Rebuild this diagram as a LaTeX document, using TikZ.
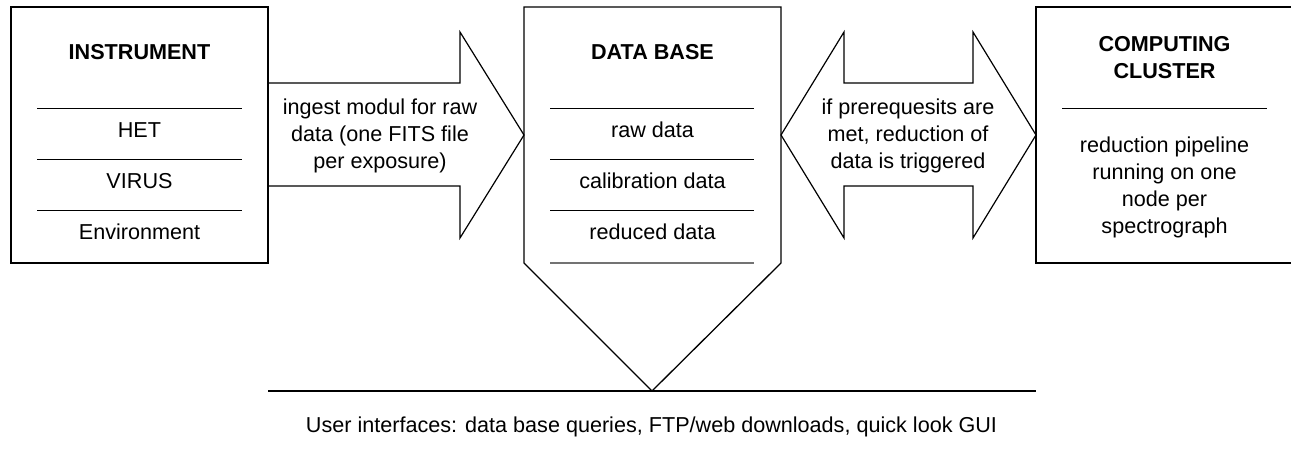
\documentclass[tikz,border=0pt]{standalone}
\usepackage{fontspec}
\setmainfont{Liberation Sans}
\begin{document}
\begin{tikzpicture}[x=1pt,y=-1pt,
  txt/.style={anchor=base, inner sep=0pt, font=\fontsize{21.6}{27}\selectfont},
  ttl/.style={anchor=base, inner sep=0pt, font=\fontsize{21.6}{27}\selectfont\bfseries},
  frame/.style={draw=black, line width=1.4pt, minimum width=257pt, minimum height=256pt, inner sep=0pt},
  outline/.style={draw=black, line width=1.2pt, line join=miter},
  sepline/.style={draw=black, line width=1pt},
  greyline/.style={draw=black!55, line width=1.2pt}]
\clip (0,0) rectangle (1291,465);
\fill[white] (0,0) rectangle (1291,465);

% INSTRUMENT box
\node[frame] (instr) at (139.5,135) {};
\node[ttl] (instrT) at (139.5,59.5) {INSTRUMENT};
\draw[sepline] (37,109) -- (242,109);
\draw[sepline] (37,160) -- (242,160);
\draw[sepline] (37,211) -- (242,211);
\node[txt] (het) at (139.5,137.5) {HET};
\node[txt] (virus) at (139.5,189) {VIRUS};
\node[txt] (env) at (139.5,240) {Environment};

% ingest arrow
\coordinate (a1s1) at (268,83);
\coordinate (a1s2) at (268,186);
\coordinate (a1tip) at (524,135);
\draw[outline] (a1s1) -- (460,83) -- (460,32) -- (a1tip) -- (460,238) -- (460,186) -- (a1s2);
\node[txt] (a1l1) at (380,115) {ingest modul for raw};
\node[txt] (a1l2) at (380,142) {data (one FITS file};
\node[txt] (a1l3) at (380,169) {per exposure)};

% DATA BASE shape
\coordinate (dbTL) at (524,7);
\coordinate (dbTR) at (781,7);
\coordinate (dbR) at (781,263);
\coordinate (dbtip) at (652,391);
\coordinate (dbL) at (524,263);
\draw[outline, line width=1.3pt] (dbTL) -- (dbTR) -- (dbR) -- (dbtip) -- (dbL) -- cycle;
\node[ttl] (dbT) at (652.5,59.5) {DATA BASE};
\draw[sepline] (550,109) -- (754,109);
\draw[sepline] (550,160) -- (754,160);
\draw[sepline] (550,211) -- (754,211);
\draw[greyline] (550,263) -- (754,263);
\node[txt] (raw) at (652.5,137.5) {raw data};
\node[txt] (cal) at (652.5,189) {calibration data};
\node[txt] (red) at (652.5,240) {reduced data};

% double arrow
\coordinate (a2l) at (781,135);
\coordinate (a2r) at (1036,135);
\draw[outline] (a2l) -- (844,32) -- (844,83) -- (973,83) -- (973,32) -- (a2r)
  -- (973,238) -- (973,186) -- (844,186) -- (844,238) -- cycle;
\node[txt] (a2l1) at (908,115) {if prerequesits are};
\node[txt] (a2l2) at (908,142) {met, reduction of};
\node[txt] (a2l3) at (908,169) {data is triggered};

% COMPUTING CLUSTER box
\node[frame] (comp) at (1164.5,135) {};
\node[ttl] (compT1) at (1164.5,52) {COMPUTING};
\node[ttl] (compT2) at (1164.5,79) {CLUSTER};
\draw[sepline] (1062,109) -- (1267,109);
\node[txt] (c1) at (1164.5,153) {reduction pipeline};
\node[txt] (c2) at (1164.5,180) {running on one};
\node[txt] (c3) at (1164.5,207) {node per};
\node[txt] (c4) at (1164.5,234) {spectrograph};

% user interfaces
\coordinate (uiL) at (268,391);
\coordinate (uiR) at (1036,391);
\draw[line width=1.2pt] (uiL) -- (dbtip) -- (uiR);
\node[txt] (ui) at (651.5,432) {User interfaces: data base queries, FTP/web downloads, quick look GUI};
\end{tikzpicture}
\end{document}
